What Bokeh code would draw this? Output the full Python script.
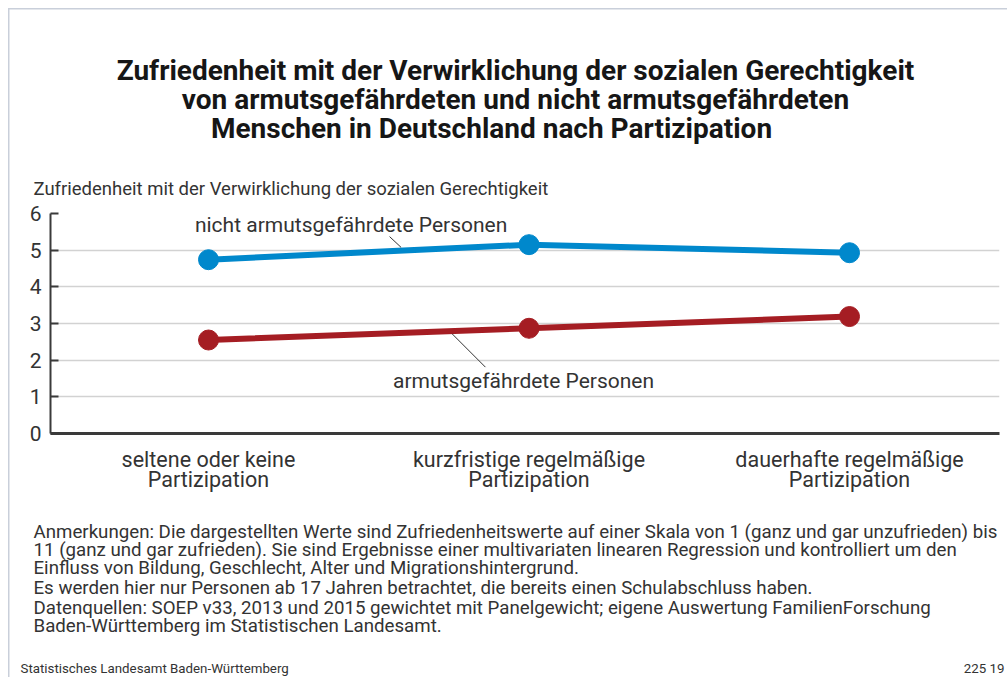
from bokeh.plotting import figure
from bokeh.layouts import column
from bokeh.models import Label, Range1d, FixedTicker
from bokeh.embed import file_html
from bokeh.resources import INLINE

# ---- data ----
categories = ["seltene oder keine\nPartizipation",
              "kurzfristige regelmäßige\nPartizipation",
              "dauerhafte regelmäßige\nPartizipation"]
x_idx = [0, 1, 2]
nicht_arm = [4.74, 5.15, 4.93]
arm = [2.55, 2.87, 3.19]
y_ticks = [0, 1, 2, 3, 4, 5, 6]

title_lines = ["Zufriedenheit mit der Verwirklichung der sozialen Gerechtigkeit",
               "von armutsgefährdeten und nicht armutsgefährdeten",
               "Menschen in Deutschland nach Partizipation"]
y_label = "Zufriedenheit mit der Verwirklichung der sozialen Gerechtigkeit"
notes = ["Anmerkungen: Die dargestellten Werte sind Zufriedenheitswerte auf einer Skala von 1 (ganz und gar unzufrieden) bis",
         "11 (ganz und gar zufrieden). Sie sind Ergebnisse einer multivariaten linearen Regression und kontrolliert um den",
         "Einfluss von Bildung, Geschlecht, Alter und Migrationshintergrund.",
         "Es werden hier nur Personen ab 17 Jahren betrachtet, die bereits einen Schulabschluss haben.",
         "Datenquellen: SOEP v33, 2013 und 2015 gewichtet mit Panelgewicht; eigene Auswertung FamilienForschung",
         "Baden-Württemberg im Statistischen Landesamt."]
footer_left = "Statistisches Landesamt Baden-Württemberg"
footer_right = "225 19"

BLUE = "#0088cc"
RED = "#a51d23"
TXT = "#333333"
FONT = "Roboto"
W = 1007
H_TOP, H_MAIN, H_BOT = 200, 300, 177
BORDER = "#c9cfda"


def text_panel(height):
    """A figure without axes whose frame is the whole canvas; data units = pixels."""
    f = figure(width=W, height=height, output_backend="svg", toolbar_location=None,
               x_range=Range1d(0, W), y_range=Range1d(height, 0),
               x_axis_location=None, y_axis_location=None,
               min_border=0, min_border_left=0, min_border_right=0,
               min_border_top=0, min_border_bottom=0, frame_align=False)
    f.outline_line_color = None
    f.grid.grid_line_color = None
    f.background_fill_alpha = 0
    f.border_fill_alpha = 0
    return f


def put(f, x, y, text, size, align="left", bold=False, color=TXT):
    f.add_layout(Label(x=x, y=y, text=text, text_align=align, text_baseline="middle",
                       text_font=FONT, text_font_size=size, text_color=color,
                       text_font_style="bold" if bold else "normal"))


# ---------- top: title + caption ----------
top = text_panel(H_TOP)
put(top, 515, 70, title_lines[0], "28px", "center", True, "#161616")
put(top, 515, 99, title_lines[1], "28px", "center", True, "#161616")
put(top, 491, 128, title_lines[2], "28px", "center", True, "#161616")
put(top, 33, 188, y_label, "18.5px")

# ---------- main chart ----------
p = figure(width=W, height=H_MAIN, output_backend="svg", toolbar_location=None,
           x_range=Range1d(-0.493, 2.468), y_range=Range1d(0, 6),
           min_border_left=50, min_border_right=8, min_border_top=13,
           min_border_bottom=67, frame_align=False)
p.outline_line_color = None
p.background_fill_color = "white"
p.border_fill_alpha = 0

p.xgrid.grid_line_color = None
p.ygrid.ticker = FixedTicker(ticks=y_ticks)
p.ygrid.grid_line_color = "#d2d2d2"
p.ygrid.grid_line_width = 1.5

xa = p.xaxis[0]
xa.ticker = FixedTicker(ticks=x_idx)
xa.major_label_overrides = {i: c for i, c in zip(x_idx, categories)}
xa.major_tick_line_color = None
xa.minor_tick_line_color = None
xa.axis_line_color = "#3a3a3a"
xa.axis_line_width = 3
xa.major_label_standoff = 7
xa.major_label_text_font = FONT
xa.major_label_text_font_size = "21.5px"
xa.major_label_text_line_height = 0.8
xa.major_label_text_color = TXT

ya = p.yaxis[0]
ya.ticker = FixedTicker(ticks=y_ticks)
ya.axis_line_color = "#3a3a3a"
ya.axis_line_width = 2
ya.major_tick_in = 8
ya.major_tick_out = 0
ya.major_tick_line_color = "#3a3a3a"
ya.major_tick_line_width = 2
ya.minor_tick_line_color = None
ya.major_label_standoff = 9
ya.major_label_text_font = FONT
ya.major_label_text_font_size = "21px"
ya.major_label_text_color = TXT

p.line(x_idx, nicht_arm, line_color=BLUE, line_width=6)
p.scatter(x_idx, nicht_arm, size=20, fill_color=BLUE, line_color=BLUE)
p.line(x_idx, arm, line_color=RED, line_width=6)
p.scatter(x_idx, arm, size=20, fill_color=RED, line_color=RED)

# series labels with leader lines
p.segment(x0=[0.565], y0=[5.37], x1=[0.601], y1=[5.075], line_color=TXT, line_width=1)
p.segment(x0=[0.760], y0=[2.72], x1=[0.864], y1=[1.81], line_color=TXT, line_width=1)
p.add_layout(Label(x=0.445, y=5.69, text="nicht armutsgefährdete Personen",
                   text_align="center", text_baseline="middle", text_font=FONT,
                   text_font_size="21px", text_color=TXT))
p.add_layout(Label(x=0.983, y=1.42, text="armutsgefährdete Personen",
                   text_align="center", text_baseline="middle", text_font=FONT,
                   text_font_size="21px", text_color=TXT))

# ---------- bottom: notes + footer ----------
bot = text_panel(H_BOT)
for t, yy in zip(notes, [31, 49, 67, 87, 107, 125]):
    put(bot, 33, yy, t, "18.7px")
put(bot, 20, 168, footer_left, "13.3px")
put(bot, 1004, 168, footer_right, "13.3px", "right")

layout = column(top, p, bot, spacing=0, styles={
    "background-color": "white",
    "background-image": f"linear-gradient({BORDER},{BORDER}), linear-gradient({BORDER},{BORDER})",
    "background-size": "1.5px 700px, 1000px 1.5px",
    "background-position": "8px 8px, 8px 8px",
    "background-repeat": "no-repeat",
})

open("out.html", "w").write(file_html(layout, INLINE))
